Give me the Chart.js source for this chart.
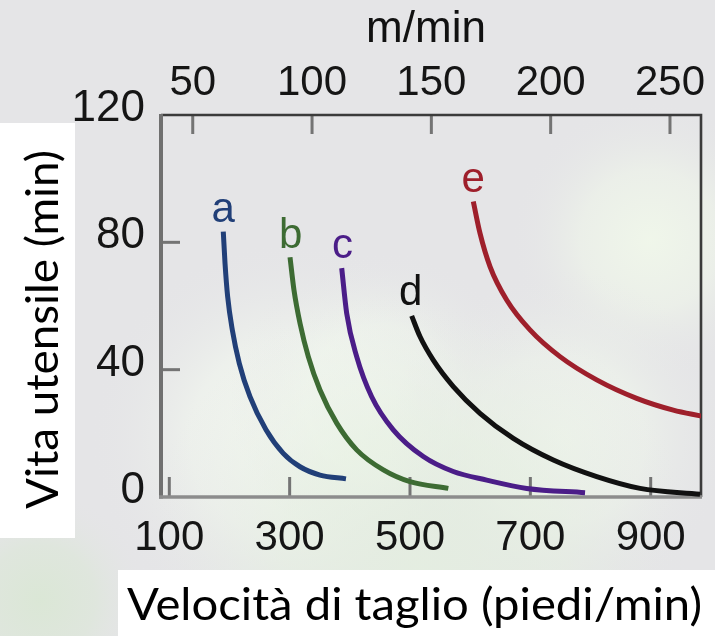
<!DOCTYPE html>
<html><head><meta charset="utf-8">
<script src="https://cdn.jsdelivr.net/npm/chart.js@4.4.1/dist/chart.umd.min.js"></script>
<style>html,body{margin:0;padding:0;background:#e5e5e7;overflow:hidden}</style>
</head><body>
<canvas id="c" width="715" height="636"></canvas>
<script>
// ---- data ----
const bottomTicks = [100, 300, 500, 700, 900];      // piedi/min
const topTicks = [50, 100, 150, 200, 250];          // m/min
const yTicks = [0, 40, 80, 120];                    // min

const aX = [189.7, 192.6, 197.0, 204.7, 216.3, 234.1, 260.7, 289.4, 317.2, 350.4, 393.6];
const aY = [83.4, 73.4, 62.9, 52.5, 42.0, 31.5, 21.1, 13.7, 9.5, 6.9, 5.7];
const bX = [300.6, 307.2, 317.2, 331.0, 350.4, 378.2, 411.4, 455.7, 500.0, 563.7];
const bY = [75.3, 65.0, 54.6, 44.1, 33.6, 23.2, 14.8, 8.5, 4.8, 2.7];
const cX = [386.5, 394.8, 411.4, 436.3, 472.2, 522.1, 571.9, 627.5, 694.0, 790.9];
const cY = [71.9, 57.7, 44.1, 31.5, 21.1, 12.7, 8.0, 5.3, 2.7, 1.35];
const dX = [502.8, 516.6, 538.7, 572.0, 616.3, 671.7, 738.2, 810.3, 882.3, 982.0];
const dY = [56.9, 50.4, 43.0, 34.7, 26.3, 18.4, 11.6, 6.4, 2.7, 0.85];
const eX = [605.2, 616.3, 633.0, 660.7, 699.4, 749.3, 810.3, 876.7, 937.6, 984.8];
const eY = [92.8, 82.9, 72.4, 61.9, 52.5, 44.1, 36.8, 31.0, 27.3, 25.4];

const curveNames = ['a', 'b', 'c', 'd', 'e'];
const curveColors = ['#213f78', '#3d6b33', '#4b1d88', '#111111', '#9e1f2b'];
const labelX = [189.7, 301.7, 387.8, 501.3, 605.2];   // label anchor (piedi/min)
const labelY = [86.5, 78.1, 75.0, 60.3, 95.9];        // label baseline (min)

const xTitle = 'Velocità di taglio (piedi/min)';
const yTitle = 'Vita utensile (min)';
const topTitle = 'm/min';

const series = [[aX, aY], [bX, bY], [cX, cY], [dX, dY], [eX, eY]];
const datasets = series.map((s, i) => ({
  label: curveNames[i],
  data: s[0].map((x, j) => ({ x: x, y: s[1][j] })),
  borderColor: curveColors[i],
  borderWidth: 5,
  pointRadius: 0,
  fill: false,
  cubicInterpolationMode: 'monotone',
  borderCapStyle: 'butt'
}));

const tickFont = 'Liberation Sans';

const deco = {
  id: 'deco',
  beforeDraw(chart) {
    const ctx = chart.ctx, W = chart.width, H = chart.height;
    ctx.save();
    ctx.fillStyle = '#e5e5e7';
    ctx.fillRect(0, 0, W, H);
    const blobs = [
      [290, 440, 200, 'rgba(244,250,240,1)'],
      [380, 400, 150, 'rgba(242,249,238,0.8)'],
      [650, 240, 140, 'rgba(240,247,234,0.95)'],
      [560, 440, 170, 'rgba(240,247,236,0.9)'],
      [420, 570, 280, 'rgba(228,238,224,0.9)'],
      [40, 600, 110, 'rgba(218,231,213,0.95)']
    ];
    blobs.forEach(b => {
      const g = ctx.createRadialGradient(b[0], b[1], 0, b[0], b[1], b[2]);
      g.addColorStop(0, b[3]);
      g.addColorStop(0.5, b[3].replace(/[\d.]+\)$/, '0.55)'));
      g.addColorStop(1, 'rgba(229,229,231,0)');
      ctx.fillStyle = g;
      ctx.fillRect(0, 0, W, H);
    });
    ctx.fillStyle = '#ffffff';
    ctx.fillRect(0, 123, 75, 415);
    ctx.fillRect(118, 570, W - 118, H - 570);
    ctx.restore();
  },
  beforeDatasetsDraw(chart) {
    const ctx = chart.ctx, ca = chart.chartArea, sc = chart.scales;
    ctx.save();
    ctx.lineCap = 'butt';
    ctx.strokeStyle = '#747474';
    ctx.lineWidth = 3;
    sc.x.ticks.forEach(t => {
      const p = sc.x.getPixelForValue(t.value);
      ctx.beginPath(); ctx.moveTo(p, ca.bottom); ctx.lineTo(p, ca.bottom - 20); ctx.stroke();
    });
    sc.x2.ticks.forEach(t => {
      const p = sc.x2.getPixelForValue(t.value);
      ctx.beginPath(); ctx.moveTo(p, ca.top); ctx.lineTo(p, ca.top + 19); ctx.stroke();
    });
    sc.y.ticks.forEach(t => {
      const p = sc.y.getPixelForValue(t.value);
      if (p > ca.top + 2 && p < ca.bottom - 2) {
        ctx.beginPath(); ctx.moveTo(ca.left, p); ctx.lineTo(ca.left + 19, p); ctx.stroke();
      }
    });
    ctx.strokeStyle = '#3b3b3b'; ctx.lineWidth = 2.6;
    ctx.beginPath(); ctx.moveTo(ca.left, ca.top); ctx.lineTo(ca.right, ca.top); ctx.lineTo(ca.right, ca.bottom); ctx.stroke();
    ctx.strokeStyle = '#707070'; ctx.lineWidth = 4;
    ctx.beginPath(); ctx.moveTo(ca.left, ca.top - 1); ctx.lineTo(ca.left, ca.bottom + 1.5); ctx.stroke();
    ctx.strokeStyle = '#8c8c8c'; ctx.lineWidth = 3.4;
    ctx.beginPath(); ctx.moveTo(ca.left - 2, ca.bottom); ctx.lineTo(ca.right + 1, ca.bottom); ctx.stroke();
    ctx.restore();
  },
  afterDatasetsDraw(chart) {
    const ctx = chart.ctx, sc = chart.scales;
    ctx.save();
    ctx.font = '42px "' + tickFont + '"';
    ctx.textAlign = 'center';
    ctx.textBaseline = 'alphabetic';
    curveNames.forEach((n, i) => {
      ctx.fillStyle = curveColors[i];
      ctx.fillText(n, sc.x.getPixelForValue(labelX[i]), sc.y.getPixelForValue(labelY[i]));
    });
    ctx.restore();
  },
  afterDraw(chart) {
    const ctx = chart.ctx;
    ctx.save();
    ctx.fillStyle = '#111';
    ctx.font = '44px "' + tickFont + '"';
    ctx.textAlign = 'center';
    ctx.textBaseline = 'alphabetic';
    ctx.fillText(topTitle, 426, 42);
    ctx.fillStyle = '#000';
    ctx.font = '45px Lato';
    ctx.textAlign = 'left';
    let w = ctx.measureText(xTitle).width;
    ctx.save();
    ctx.translate(127, 619.5);
    ctx.scale(575 / w, 1);
    ctx.fillText(xTitle, 0, 0);
    ctx.restore();
    w = ctx.measureText(yTitle).width;
    ctx.save();
    ctx.translate(58, 509);
    ctx.rotate(-Math.PI / 2);
    ctx.scale(359 / w, 1);
    ctx.fillText(yTitle, 0, 0);
    ctx.restore();
    ctx.restore();
  }
};

new Chart(document.getElementById('c'), {
  type: 'line',
  data: { datasets: datasets },
  options: {
    responsive: false,
    animation: false,
    devicePixelRatio: 1,
    layout: { padding: { left: 0, right: 14, top: 0, bottom: 0 } },
    plugins: { legend: { display: false }, tooltip: { enabled: false }, title: { display: false } },
    scales: {
      x: {
        type: 'linear', position: 'bottom', min: 86.2, max: 983.6,
        afterBuildTicks: s => { s.ticks = bottomTicks.map(v => ({ value: v })); },
        afterFit: s => { s.height = 139; },
        grid: { display: false }, border: { display: false },
        ticks: { font: { family: tickFont, size: 42 }, color: '#151515', padding: 8, maxRotation: 0, autoSkip: false }
      },
      x2: {
        type: 'linear', position: 'top', min: 36.7, max: 263.0,
        afterBuildTicks: s => { s.ticks = topTicks.map(v => ({ value: v })); },
        afterFit: s => { s.height = 115; },
        grid: { display: false }, border: { display: false },
        ticks: { font: { family: tickFont, size: 42 }, color: '#151515', padding: -2, maxRotation: 0, autoSkip: false }
      },
      y: {
        type: 'linear', position: 'left', min: 0, max: 120,
        afterBuildTicks: s => { s.ticks = yTicks.map(v => ({ value: v })); },
        afterFit: s => { s.width = 161; },
        grid: { display: false }, border: { display: false },
        ticks: { font: { family: tickFont, size: 44 }, color: '#151515', padding: 8, labelOffset: -6, autoSkip: false }
      }
    }
  },
  plugins: [deco]
});
</script>
</body></html>
